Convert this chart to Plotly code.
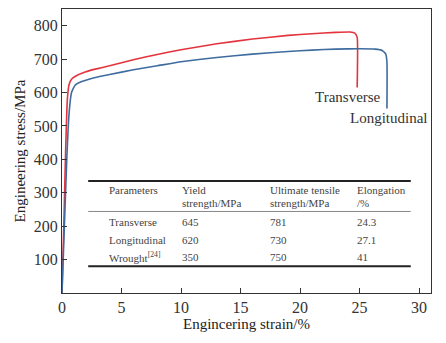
import plotly.graph_objects as go

# Transverse curve (strain %, stress MPa)
trans_strain = [0, 0.15, 0.3, 0.45, 0.6, 0.8, 1.2, 2, 2.8, 4, 6, 8, 10, 13, 16, 19, 21, 23, 24.2, 24.6, 24.8, 24.8]
trans_stress = [0, 200, 420, 580, 625, 640, 650, 662, 670, 680, 698, 714, 728, 746, 760, 771, 776, 780, 781, 778, 765, 615]

# Longitudinal curve
long_strain = [0, 0.2, 0.4, 0.6, 0.8, 1.1, 1.6, 2.8, 4, 6, 8, 10, 13, 16, 19, 21, 23, 25, 26.3, 26.9, 27.2, 27.3, 27.3]
long_stress = [0, 200, 400, 540, 600, 622, 632, 645, 654, 668, 680, 692, 705, 715, 723, 727, 730, 731, 730, 726, 715, 690, 552]

# Table
table_headers = [["Parameters", ""], ["Yield", "strength/MPa"], ["Ultimate tensile", "strength/MPa"], ["Elongation", "/%"]]
table_rows = [
    ["Transverse", "645", "781", "24.3"],
    ["Longitudinal", "620", "730", "27.1"],
    ["Wrought<sup>[24]</sup>", "350", "750", "41"],
]

x_ticks = [0, 5, 10, 15, 20, 25, 30]
y_ticks = [100, 200, 300, 400, 500, 600, 700, 800]

SERIF = "Liberation Serif, Times New Roman, serif"

fig = go.Figure()
fig.add_trace(go.Scatter(x=trans_strain, y=trans_stress, mode="lines",
                         line=dict(color="#e3343e", width=1.6, shape="spline", smoothing=0.4),
                         showlegend=False))
fig.add_trace(go.Scatter(x=long_strain, y=long_stress, mode="lines",
                         line=dict(color="#3f6c9f", width=1.6, shape="spline", smoothing=0.4),
                         showlegend=False))

ann = []
ann.append(dict(x=24.0, y=588, text="Transverse", showarrow=False, xanchor="center", yanchor="middle",
                font=dict(family=SERIF, size=15, color="#333")))
ann.append(dict(x=27.5, y=525, text="Longitudinal", showarrow=False, xanchor="center", yanchor="middle",
                font=dict(family=SERIF, size=15, color="#333")))

col_x = [3.8, 9.9, 17.3, 24.6]
head_y = [308, 270]
row_y = [214, 160, 107]
tfont = dict(family=SERIF, size=11, color="#444")
for ci, (h1, h2) in enumerate(table_headers):
    ann.append(dict(x=col_x[ci], y=head_y[0], text=h1, showarrow=False, xanchor="left", yanchor="middle", font=tfont))
    if h2:
        ann.append(dict(x=col_x[ci], y=head_y[1], text=h2, showarrow=False, xanchor="left", yanchor="middle", font=tfont))
for ri, row in enumerate(table_rows):
    for ci, val in enumerate(row):
        ann.append(dict(x=col_x[ci], y=row_y[ri], text=val, showarrow=False, xanchor="left", yanchor="middle", font=tfont))

shapes = [
    dict(type="line", xref="x", yref="y", x0=2.2, x1=29.3, y0=335, y1=335, line=dict(color="#222", width=2)),
    dict(type="line", xref="x", yref="y", x0=2.2, x1=29.3, y0=244, y1=244, line=dict(color="#888", width=1)),
    dict(type="line", xref="x", yref="y", x0=2.2, x1=29.3, y0=80, y1=80, line=dict(color="#222", width=2)),
]

fig.update_layout(
    width=446, height=343,
    margin=dict(l=62, r=15, t=9, b=50),
    paper_bgcolor="white", plot_bgcolor="white",
    annotations=ann, shapes=shapes,
    xaxis=dict(range=[0, 31], tickvals=x_ticks, ticks="inside", ticklen=5, tickcolor="#333",
               showline=True, linecolor="#333", linewidth=1, mirror=True, showgrid=False, zeroline=False,
               tickfont=dict(family=SERIF, size=16, color="#333"),
               title=dict(text="Engincering strain/%", font=dict(family=SERIF, size=15, color="#222"), standoff=2)),
    yaxis=dict(range=[0, 850], tickvals=y_ticks, ticks="inside", ticklen=5, tickcolor="#333",
               showline=True, linecolor="#333", linewidth=1, mirror=True, showgrid=False, zeroline=False,
               tickfont=dict(family=SERIF, size=16, color="#333"),
               title=dict(text="Engineering stress/MPa", font=dict(family=SERIF, size=15, color="#222"), standoff=4)),
)

fig.write_html("out.html")
